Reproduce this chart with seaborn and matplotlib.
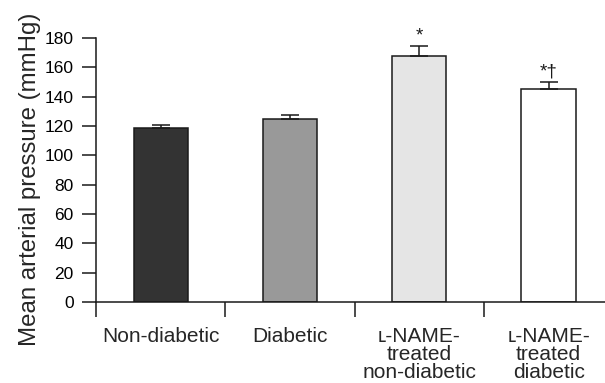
import matplotlib
matplotlib.use("Agg")
import matplotlib.pyplot as plt
import seaborn as sns
import pandas as pd
import numpy as np

# Mean arterial pressure per group (mean and SEM, mmHg)
groups = ["Non-diabetic", "Diabetic",
          "\u029f-NAME-\ntreated\nnon-diabetic", "\u029f-NAME-\ntreated\ndiabetic"]
means = [118.5, 124.5, 167.5, 145.5]
sems = [2.0, 3.0, 7.0, 4.5]
marks = ["", "", "*", "*\u2020"]
fills = ["#333333", "#999999", "#e5e5e5", "#ffffff"]
yticks = [0, 20, 40, 60, 80, 100, 120, 140, 160, 180]

sns.set_style("ticks")
plt.rcParams["font.family"] = ["Liberation Sans", "DejaVu Sans"]

df = pd.DataFrame({"group": groups, "mean": means})

fig = plt.figure(figsize=(6.05, 3.83), dpi=100)
ax = fig.add_axes([96 / 605, 1 - 302 / 383, 1 - 96 / 605, (302 - 38) / 383])

sns.barplot(data=df, x="group", y="mean", hue="group", palette=fills,
            width=0.42, edgecolor="#1a1a1a", linewidth=1.1, legend=False,
            errorbar=None, ax=ax)

pos = np.arange(len(groups))
ax.errorbar(pos, means, yerr=[np.zeros(len(means)), sems], fmt="none",
            ecolor="#1a1a1a", elinewidth=1.1, capsize=6.8, capthick=1.1,
            zorder=3)

for i, (m, e, s) in enumerate(zip(means, sems, marks)):
    if s:
        ax.annotate(s, (i, m + e), xytext=(0, 4), textcoords="offset points",
                    ha="center", va="baseline", fontsize=13.5, color="#1a1a1a")

ax.set_xlim(-0.5, 3.436)
ax.set_ylim(0, 180)
ax.set_yticks(yticks)
ax.tick_params(axis="y", direction="out", length=10, width=1.1,
               pad=6, labelsize=12.5, color="#1a1a1a", labelcolor="black")

# boundary ticks between categories, labels centred on the bars
ax.set_xticks([-0.5, 0.5, 1.5, 2.5])
ax.set_xticklabels([])
ax.set_xticks(pos, minor=True)
ax.set_xticklabels(groups, minor=True, fontsize=15, linespacing=0.92,
                   va="top")
ax.tick_params(axis="x", which="major", direction="out", length=11,
               width=1.1, color="#1a1a1a")
ax.tick_params(axis="x", which="minor", length=0, pad=18)

ax.set_xlabel("")
ax.set_ylabel("Mean arterial pressure (mmHg)", fontsize=17.3)
ax.yaxis.set_label_coords(-0.108, 0.466)

for side in ["top", "right"]:
    ax.spines[side].set_visible(False)
for side in ["left", "bottom"]:
    ax.spines[side].set_linewidth(1.1)
    ax.spines[side].set_color("#1a1a1a")

fig.savefig("out.png", dpi=100)
